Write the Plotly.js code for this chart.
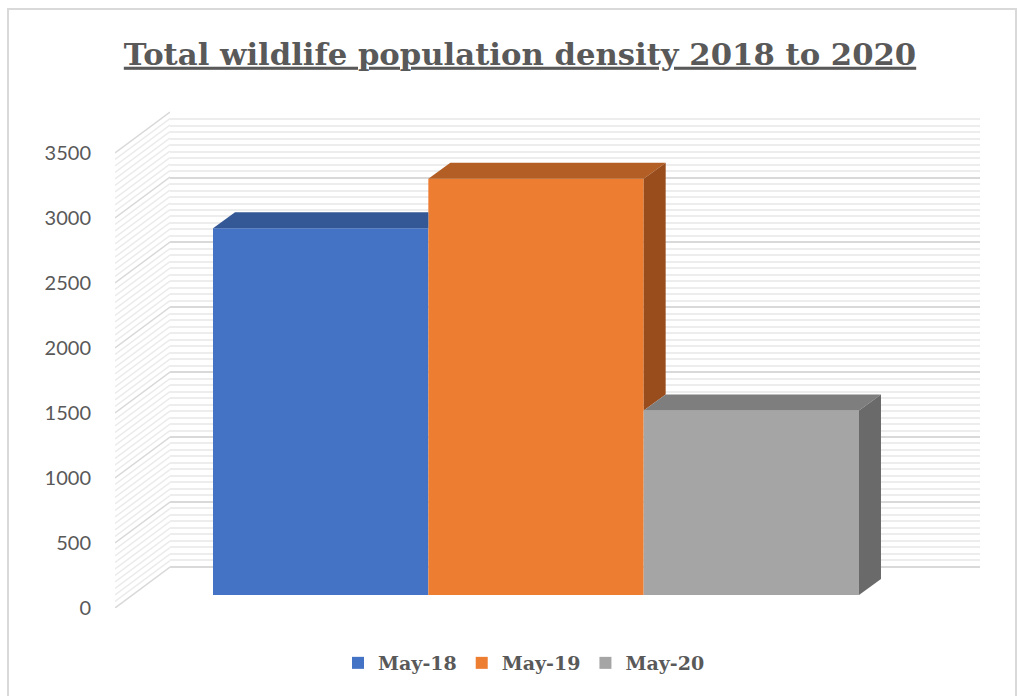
<!DOCTYPE html>
<html><head><meta charset="utf-8">
<script src="https://cdn.plot.ly/plotly-3.0.1.min.js"></script>
<style>html,body{margin:0;padding:0;background:#fff}#chart{width:1019px;height:696px}</style>
</head><body><div id="chart"></div>
<script>
// ---- data ----
const categories = ['Total wildlife population density'];
const seriesNames = ['May-18', 'May-19', 'May-20'];
const seriesValues = [2825, 3205, 1420];
const tickValues = [0, 500, 1000, 1500, 2000, 2500, 3000, 3500];
const tickLabels = ['0', '500', '1000', '1500', '2000', '2500', '3000', '3500'];
const titleText = 'Total wildlife population density 2018 to 2020';

// ---- styles ----
const frontColors = ['#4472C4', '#ED7D31', '#A5A5A5'];
const topColors = ['#335895', '#B35E24', '#7E7E7E'];
const sideColors = ['#2E5089', '#9A4D1C', '#6A6A6A'];
const textGray = '#595959';

const W = 1019, H = 696;
const px = v => v / W, py = v => 1 - v / H;

// geometry of the pseudo-3D frame (pixels)
const BAR_AX_L = 105, BAR_AX_R = 967;      // bar axis horizontal extent
const BARGAP = 0.2506;
const YPX = 454.5 / 3500;                   // px per unit
const dxu = 22 / (BAR_AX_R - BAR_AX_L);     // bar depth, x units
const dyu = 16 / YPX;                       // bar depth, y units
const wallDepth = 41 / (455 / 3500);        // left wall depth in y units

const traces = [];

// left side wall lines (minor + major)
const minorStep = 50;
const sxMin = [], syMin = [], sxMaj = [], syMaj = [];
const maxTick = tickValues[tickValues.length - 1];
for (let t = 0; t <= maxTick + 1e-9; t += minorStep) {
  const isMaj = tickValues.indexOf(t) >= 0;
  (isMaj ? sxMaj : sxMin).push(0, 1, null);
  (isMaj ? syMaj : syMin).push(t, t + wallDepth, null);
}
traces.push({x: sxMin, y: syMin, xaxis: 'x', yaxis: 'y', mode: 'lines',
  line: {color: '#ebebeb', width: 1.5}, showlegend: false, hoverinfo: 'skip'});
traces.push({x: sxMaj, y: syMaj, xaxis: 'x', yaxis: 'y', mode: 'lines',
  line: {color: '#d9d9d9', width: 1.5}, showlegend: false, hoverinfo: 'skip'});

// invisible anchor trace for the back wall subplot
traces.push({x: [0, 1], y: [0, 0], xaxis: 'x2', yaxis: 'y2', mode: 'lines',
  line: {width: 0, color: 'rgba(0,0,0,0)'}, showlegend: false, hoverinfo: 'skip'});

// front faces (bars)
seriesNames.forEach((name, i) => {
  traces.push({
    type: 'bar', name: name, x: [0], y: [seriesValues[i]],
    xaxis: 'x3', yaxis: 'y3',
    marker: {color: frontColors[i], line: {width: 0}},
    customdata: [categories[0]],
    hovertemplate: '%{customdata}<br>' + name + ': %{y}<extra></extra>'
  });
});

// top and side faces derived from values
const n = seriesValues.length;
const groupW = 1 - BARGAP, barW = groupW / n;
seriesValues.forEach((v, i) => {
  const x0 = -groupW / 2 + i * barW, x1 = x0 + barW;
  const next = i < n - 1 ? seriesValues[i + 1] : null;
  let tx, ty;
  if (next !== null && next > v) {
    tx = [x0, x1, x1, x0 + dxu, x0];
    ty = [v, v, v + dyu, v + dyu, v];
  } else {
    tx = [x0, x1, x1 + dxu, x0 + dxu, x0];
    ty = [v, v, v + dyu, v + dyu, v];
  }
  traces.push({x: tx, y: ty, xaxis: 'x3', yaxis: 'y3', mode: 'lines', fill: 'toself',
    fillcolor: topColors[i], line: {width: 0, color: topColors[i]},
    showlegend: false, hoverinfo: 'skip'});
  const lo = next === null ? 0 : next;
  if (next === null || next < v) {
    traces.push({x: [x1, x1 + dxu, x1 + dxu, x1, x1], y: [lo, lo + dyu, v + dyu, v, lo],
      xaxis: 'x3', yaxis: 'y3', mode: 'lines', fill: 'toself',
      fillcolor: sideColors[i], line: {width: 0, color: sideColors[i]},
      showlegend: false, hoverinfo: 'skip'});
  }
});

const hiddenAxis = {showticklabels: false, ticks: '', showgrid: false, zeroline: false, showline: false, fixedrange: true};

const layout = {
  width: W, height: H,
  margin: {l: 0, r: 0, t: 0, b: 0},
  paper_bgcolor: '#ffffff', plot_bgcolor: 'rgba(0,0,0,0)',
  showlegend: true,
  barmode: 'group', bargap: BARGAP, bargroupgap: 0,
  title: {
    text: '<b>' + titleText + '</b>',
    x: 520 / W, xanchor: 'center', y: py(54), yanchor: 'middle',
    font: {family: 'DejaVu Serif', size: 30.7, color: textGray, lineposition: 'under'}
  },
  legend: {
    orientation: 'h', x: 524 / W, xanchor: 'center', y: py(663), yanchor: 'middle',
    font: {family: 'DejaVu Serif', size: 19, color: textGray, weight: 'bold'},
    itemclick: false, itemdoubleclick: false
  },
  // left wall + value labels
  xaxis: Object.assign({domain: [px(115), px(170)], range: [0, 1]}, hiddenAxis),
  yaxis: {domain: [py(608), py(101)], range: [0, 3900], showgrid: false, zeroline: false,
    showline: false, tickmode: 'array', tickvals: tickValues, ticktext: tickLabels,
    ticks: 'outside', ticklen: 19, tickcolor: 'rgba(0,0,0,0)',
    tickfont: {family: 'Lato', size: 20, color: textGray}, fixedrange: true},
  // back wall
  xaxis2: Object.assign({domain: [px(170), px(980)], range: [0, 1], anchor: 'y2'}, hiddenAxis),
  yaxis2: {domain: [py(566.7), py(112.7)], range: [0, 3500], anchor: 'x2',
    showticklabels: false, ticks: '', showline: false,
    tickmode: 'array', tickvals: tickValues,
    showgrid: true, gridcolor: '#d9d9d9', gridwidth: 1.5,
    zeroline: true, zerolinecolor: '#d9d9d9', zerolinewidth: 1.5,
    minor: {tickmode: 'linear', tick0: 0, dtick: 50, showgrid: true, gridcolor: '#ededed', gridwidth: 1.5, ticks: ''},
    fixedrange: true},
  // bars
  xaxis3: Object.assign({domain: [px(BAR_AX_L), px(BAR_AX_R)], range: [-0.5, 0.5], anchor: 'y3'}, hiddenAxis),
  yaxis3: Object.assign({domain: [py(595), py(595 - 3500 * YPX)], range: [0, 3500], anchor: 'x3'}, hiddenAxis),
  shapes: [
    {type: 'rect', xref: 'paper', yref: 'paper', x0: px(8), x1: px(1016), y0: py(705), y1: py(9),
      line: {color: '#d9d9d9', width: 2}, fillcolor: 'rgba(0,0,0,0)', layer: 'below'}
  ]
};

Plotly.newPlot('chart', traces, layout, {displayModeBar: false});
</script>
</body></html>
